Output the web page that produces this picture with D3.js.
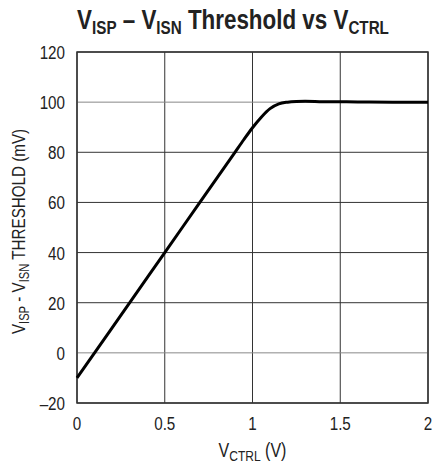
<!DOCTYPE html>
<html>
<head>
<meta charset="utf-8">
<script src="https://cdn.jsdelivr.net/npm/d3@7"></script>
<style>
  body { margin: 0; background: #fff; }
  text { font-family: "Liberation Sans Narrow", "Arial Narrow", "Liberation Sans", sans-serif; fill: #222; }
</style>
</head>
<body>
<div id="chart"></div>
<script>
// threshold curve
var vctrl = [0, 0.2, 0.4, 0.6, 0.8, 0.9, 0.95, 1.0, 1.05, 1.1, 1.15, 1.2, 1.25, 1.3, 1.4, 1.6, 1.8, 2.0];
var threshold = [-10, 10, 30, 50, 70, 80, 85, 89.8, 94, 97.4, 99.3, 100, 100.3, 100.4, 100.2, 100.1, 100, 100];

var xTicks = [0, 0.5, 1, 1.5, 2];
var xTickLabels = ["0", "0.5", "1", "1.5", "2"];
var yTicks = [-20, 0, 20, 40, 60, 80, 100, 120];
var yTickLabels = ["–20", "0", "20", "40", "60", "80", "100", "120"];

var width = 435, height = 466;
var margin = { left: 77, right: 7, top: 52, bottom: 63 };
var narrow = 0.8; // squeeze for a condensed look

var svg = d3.select("#chart").append("svg")
    .attr("width", width)
    .attr("height", height);

var x = d3.scaleLinear().domain([0, 2]).range([margin.left, width - margin.right]);
var y = d3.scaleLinear().domain([-20, 120]).range([height - margin.bottom, margin.top]);

// grid
svg.append("g").selectAll("line")
    .data(xTicks)
    .enter().append("line")
    .attr("x1", d => x(d)).attr("x2", d => x(d))
    .attr("y1", y(-20)).attr("y2", y(120))
    .attr("stroke", "#333")
    .attr("stroke-width", 1);

svg.append("g").selectAll("line")
    .data(yTicks)
    .enter().append("line")
    .attr("x1", x(0)).attr("x2", x(2))
    .attr("y1", d => y(d)).attr("y2", d => y(d))
    .attr("stroke", d => (d == 0 || d == 100) ? "#888" : "#333")
    .attr("stroke-width", 1);

// frame
svg.append("rect")
    .attr("x", x(0)).attr("y", y(120))
    .attr("width", x(2) - x(0)).attr("height", y(-20) - y(120))
    .attr("fill", "none")
    .attr("stroke", "#333")
    .attr("stroke-width", 1.5);

// tick labels
svg.append("g").selectAll("text")
    .data(xTicks)
    .enter().append("text")
    .attr("transform", d => `translate(${x(d)},${y(-20) + 27}) scale(${narrow},1)`)
    .attr("text-anchor", "middle")
    .style("font-size", "19px")
    .text((d, i) => xTickLabels[i]);

svg.append("g").selectAll("text")
    .data(yTicks)
    .enter().append("text")
    .attr("transform", d => `translate(${x(0) - 12},${y(d) + 7}) scale(${narrow},1)`)
    .attr("text-anchor", "end")
    .style("font-size", "19px")
    .text((d, i) => yTickLabels[i]);

// curve
var line = d3.line()
    .x(d => x(d[0]))
    .y(d => y(d[1]))
    .curve(d3.curveMonotoneX);

svg.append("path")
    .datum(vctrl.map((v, i) => [v, threshold[i]]))
    .attr("d", line)
    .attr("fill", "none")
    .attr("stroke", "#000")
    .attr("stroke-width", 3)
    .attr("stroke-linejoin", "round");

// title
var title = svg.append("text")
    .attr("transform", `translate(233,29) scale(${narrow},1)`)
    .attr("text-anchor", "middle")
    .style("font-size", "28px")
    .style("font-weight", "bold");
title.append("tspan").text("V");
title.append("tspan").attr("dy", 5).style("font-size", "19px").text("ISP");
title.append("tspan").attr("dy", -5).text(" – V");
title.append("tspan").attr("dy", 5).style("font-size", "19px").text("ISN");
title.append("tspan").attr("dy", -5).text(" Threshold vs V");
title.append("tspan").attr("dy", 5).style("font-size", "19px").text("CTRL");

// x axis label
var xl = svg.append("text")
    .attr("transform", `translate(${(x(0) + x(2)) / 2},457) scale(${narrow},1)`)
    .attr("text-anchor", "middle")
    .style("font-size", "20px");
xl.append("tspan").text("V");
xl.append("tspan").attr("dy", 4).style("font-size", "15px").text("CTRL");
xl.append("tspan").attr("dy", -4).text(" (V)");

// y axis label
var yl = svg.append("text")
    .attr("transform", "translate(25," + ((y(-20) + y(120)) / 2 + 4) + ") rotate(-90) scale(" + narrow + ",1)")
    .attr("text-anchor", "middle")
    .style("font-size", "19px");
yl.append("tspan").text("V");
yl.append("tspan").attr("dy", 4).style("font-size", "14px").text("ISP");
yl.append("tspan").attr("dy", -4).text(" - V");
yl.append("tspan").attr("dy", 4).style("font-size", "14px").text("ISN");
yl.append("tspan").attr("dy", -4).text(" THRESHOLD (mV)");
</script>
</body>
</html>
